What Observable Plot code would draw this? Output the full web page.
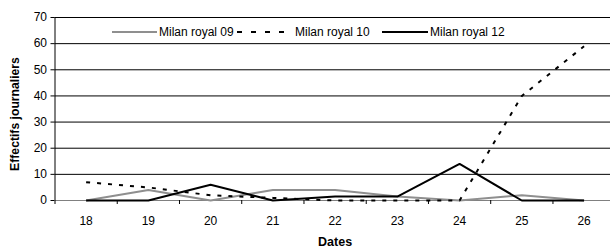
<!DOCTYPE html>
<html>
<head>
<meta charset="utf-8">
<script src="https://cdn.jsdelivr.net/npm/d3@7"></script>
<script src="https://cdn.jsdelivr.net/npm/@observablehq/plot@0.6"></script>
<style>
  html, body { margin: 0; padding: 0; background: #fff; }
  #chart { position: relative; width: 610px; height: 248px; overflow: hidden; font-family: "Liberation Sans", Arial, sans-serif; }
  .lg-item { position: absolute; top: 24px; height: 16px; display: flex; align-items: center; font-size: 12px; color: #000; white-space: nowrap; }
  .lg-item svg { display: block; }
</style>
</head>
<body>
<div id="chart"></div>
<script>
const dates = [18, 19, 20, 21, 22, 23, 24, 25, 26];
const royal09 = [0, 4, 0, 4, 4, 1.5, 0, 2, 0];
const royal10 = [7, 5, 2, 1, 0, 0, 0, 40, 59];
const royal12 = [0, 0, 6, 0, 1.5, 1.5, 14, 0, 0];
const seriesNames = ["Milan royal 09", "Milan royal 10", "Milan royal 12"];
const yTicks = [0, 10, 20, 30, 40, 50, 60, 70];
const bandEdges = [17.5, 18.5, 19.5, 20.5, 21.5, 22.5, 23.5, 24.5, 25.5, 26.5];

const rows = (vals) => dates.map((d, i) => ({date: d, value: vals[i]}));

const styles = [
  {stroke: "#8f8f8f", strokeWidth: 2},
  {stroke: "#000", strokeWidth: 2, strokeDasharray: "4,7"},
  {stroke: "#000", strokeWidth: 2}
];
const allSeries = [royal09, royal10, royal12];

const xRange = [54.5, 614.7];
const yRange = [200, 17];
const pxX = (xRange[1] - xRange[0]) / 9;   // px per date unit
const pxY = (yRange[0] - yRange[1]) / 70;  // px per value unit
const tickLen = 4;

const plot = Plot.plot({
  width: 610,
  height: 248,
  marginLeft: 54,
  marginRight: 0,
  marginTop: 17,
  marginBottom: 48,
  style: {fontFamily: "Liberation Sans, Arial, sans-serif", fontSize: "12px", background: "#fff", overflow: "visible"},
  x: {type: "linear", domain: [17.5, 26.5], range: xRange, axis: null},
  y: {type: "linear", domain: [0, 70], range: yRange, axis: null},
  marks: [
    // gridlines
    Plot.ruleY(yTicks.filter(v => v > 0), {x1: 17.5, x2: 26.5, stroke: "#000", strokeWidth: 1}),
    // y axis line
    Plot.ruleX([17.5], {y1: 0, y2: 70, stroke: "#000", strokeWidth: 1}),
    // y ticks
    Plot.ruleY(yTicks, {x1: 17.5 - tickLen / pxX, x2: 17.5, stroke: "#000", strokeWidth: 1}),
    Plot.text(yTicks, {x: 17.5, y: d => d, text: d => String(d), dx: -8, textAnchor: "end", fontSize: 12, fill: "#000"}),
    // x axis line
    Plot.ruleY([0], {x1: 17.5, x2: 26.5, stroke: "#808080", strokeWidth: 1}),
    // x ticks at band edges
    Plot.ruleX(bandEdges, {y1: 0, y2: -tickLen / pxY, stroke: "#000", strokeWidth: 1}),
    Plot.text(dates, {x: d => d, y: 0, text: d => String(d), dy: 21, fontSize: 12, fill: "#000"}),
    // series
    ...allSeries.map((vals, i) => Plot.line(rows(vals), {x: "date", y: "value", ...styles[i], strokeLinejoin: "miter", strokeLinecap: "butt"})),
    // axis titles
    Plot.text(["Dates"], {x: 22, y: 0, dy: 41, fontWeight: "bold", fontSize: 12.5, fill: "#000"}),
    Plot.text(["Effectifs journaliers"], {frameAnchor: "left", dx: -39, dy: 5, rotate: -90, textAnchor: "middle", fontWeight: "bold", fontSize: 12.2, fill: "#000"})
  ]
});

const chart = document.getElementById("chart");
chart.appendChild(plot);

// Legend as HTML overlay
const swatch = (st, w) => {
  const s = d3.create("svg").attr("width", w).attr("height", 10);
  s.append("line").attr("x1", 0).attr("x2", w).attr("y1", 5).attr("y2", 5)
    .attr("stroke", st.stroke).attr("stroke-width", st.strokeWidth)
    .attr("stroke-dasharray", st.strokeDasharray ? "5,9" : null);
  return s.node();
};
const legendLeft = [112, 237, 382];
const swW = [45, 56, 46];
seriesNames.forEach((name, i) => {
  const item = document.createElement("div");
  item.className = "lg-item";
  item.style.left = legendLeft[i] + "px";
  item.appendChild(swatch(styles[i], swW[i]));
  const t = document.createElement("span");
  t.textContent = name;
  t.style.marginLeft = "2px";
  item.appendChild(t);
  chart.appendChild(item);
});
</script>
</body>
</html>
